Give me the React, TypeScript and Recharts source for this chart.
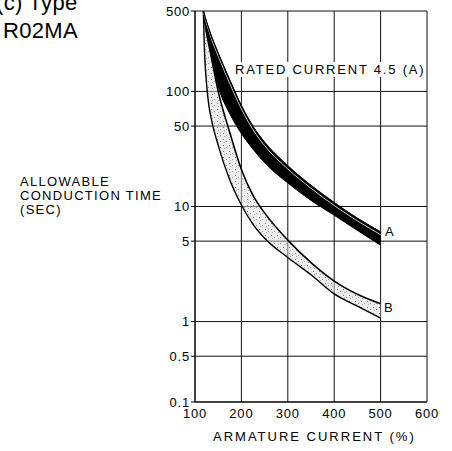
// Allowable conduction time chart, type R02MA (Recharts)

import { ComposedChart, Area, Line, XAxis, YAxis, CartesianGrid } from "recharts";

// armature current (%)
const currents = [118, 120, 125, 130, 135, 150, 175, 200, 225, 250, 300, 350, 400, 450, 500];
// band A, allowable conduction time (sec)
const aUpper = [500, 469, 400, 349, 305, 215, 125, 75, 49.5, 36, 22.5, 15.2, 10.8, 7.9, 6.0];
const aInner = [500, 460, 385, 335, 290, 203, 117, 70.5, 46.5, 33.8, 21.2, 14.4, 10.2, 7.5, 5.7];
const aLower = [500, 444, 329, 257, 203, 111, 64, 43, 31.5, 24, 16, 11.3, 8.4, 6.2, 4.6];
// band B
const bUpper = [500, 435, 320, 252, 200, 100, 44, 21, 12.5, 8.8, 5.1, 3.25, 2.25, 1.73, 1.43];
const bLower = [500, 250, 115, 75, 58, 34, 17, 10.3, 7.0, 5.3, 3.6, 2.55, 1.74, 1.36, 1.07];

const xTicks = [100, 200, 300, 400, 500, 600];
// the printed scale squeezes the last decade: the bottom line marked 0.1 sits where 0.2 would be
const yTicks = [0.2, 0.5, 1, 5, 10, 50, 100, 500];
const yTickLabels = ["0.1", "0.5", "1", "5", "10", "50", "100", "500"];

const FONT = '"Liberation Sans", Arial, Helvetica, sans-serif';

export default function App() {
  const rows = currents.map((x, i) => ({
    x,
    a: [aLower[i], aUpper[i]],
    b: [bLower[i], bUpper[i]],
    aTop: aUpper[i],
    aIn: aInner[i],
    bTop: bUpper[i],
    bBot: bLower[i],
  }));

  const tickStyle = { fontSize: 13, fill: "#000", fontFamily: FONT, letterSpacing: 0.8 };

  return (
    <div
      style={{
        position: "absolute",
        left: 0,
        top: 0,
        width: 452,
        height: 451,
        background: "#fff",
        fontFamily: FONT,
        color: "#000",
        overflow: "hidden",
      }}
    >
      <ComposedChart width={452} height={451} data={rows} margin={{ top: 11, right: 25, bottom: 0, left: 0 }}>
        <defs>
          <pattern id="stipple" width="6" height="6" patternUnits="userSpaceOnUse">
            <rect width="6" height="6" fill="#dcdcdc" fillOpacity={0.5} />
            <rect x="1" y="1" width="1" height="1" fill="#777" />
            <rect x="4" y="3" width="1" height="1" fill="#999" />
            <rect x="2" y="4" width="1" height="1" fill="#aaa" />
          </pattern>
        </defs>
        <CartesianGrid stroke="#111" strokeWidth={1} />
        <XAxis
          dataKey="x"
          type="number"
          domain={[100, 600]}
          ticks={xTicks}
          height={49}
          tickSize={0}
          tickMargin={7}
          tickLine={false}
          axisLine={{ stroke: "#000" }}
          tick={tickStyle}
          interval={0}
        />
        <YAxis
          scale="log"
          type="number"
          domain={[0.2, 500]}
          ticks={yTicks}
          allowDataOverflow
          width={195}
          tickSize={4}
          tickMargin={1}
          tickLine={{ stroke: "#000" }}
          axisLine={{ stroke: "#000" }}
          tick={tickStyle}
          interval={0}
          tickFormatter={(v) => yTickLabels[yTicks.indexOf(v)] ?? String(v)}
        />
        <Area
          type="monotone"
          dataKey="b"
          fill="url(#stipple)"
          fillOpacity={1}
          stroke="none"
          isAnimationActive={false}
        />
        <Line type="monotone" dataKey="bTop" stroke="#000" strokeWidth={1.6} dot={false} isAnimationActive={false} />
        <Line type="monotone" dataKey="bBot" stroke="#000" strokeWidth={1.4} dot={false} isAnimationActive={false} />
        <Area
          type="monotone"
          dataKey="a"
          fill="#000"
          fillOpacity={1}
          stroke="#000"
          strokeWidth={1}
          isAnimationActive={false}
        />
        <Line type="monotone" dataKey="aIn" stroke="#fff" strokeWidth={0.8} dot={false} isAnimationActive={false} />
        <Line type="monotone" dataKey="aTop" stroke="#000" strokeWidth={1.2} dot={false} isAnimationActive={false} />
      </ComposedChart>

      <div style={{ position: "absolute", left: -4, top: -11, fontSize: 22, lineHeight: "28px", letterSpacing: 0.3 }}>
        (c) Type
        <br />
        <span style={{ marginLeft: 7 }}>R02MA</span>
      </div>

      <div
        style={{
          position: "absolute",
          left: 20,
          top: 175,
          fontSize: 13,
          lineHeight: "14px",
          letterSpacing: 1.3,
        }}
      >
        ALLOWABLE
        <br />
        CONDUCTION TIME
        <br />
        (SEC)
      </div>

      <div
        style={{
          position: "absolute",
          left: 235,
          top: 62,
          fontSize: 13,
          lineHeight: "15px",
          letterSpacing: 1.8,
          background: "#fff",
          whiteSpace: "nowrap",
        }}
      >
        RATED CURRENT 4.5 (A)
      </div>

      <div style={{ position: "absolute", left: 385, top: 224, fontSize: 13, lineHeight: "15px" }}>A</div>
      <div style={{ position: "absolute", left: 384, top: 300, fontSize: 13, lineHeight: "15px" }}>B</div>

      <div
        style={{
          position: "absolute",
          left: 213,
          top: 429,
          fontSize: 13,
          lineHeight: "15px",
          letterSpacing: 2,
          whiteSpace: "nowrap",
        }}
      >
        ARMATURE CURRENT (%)
      </div>
    </div>
  );
}
